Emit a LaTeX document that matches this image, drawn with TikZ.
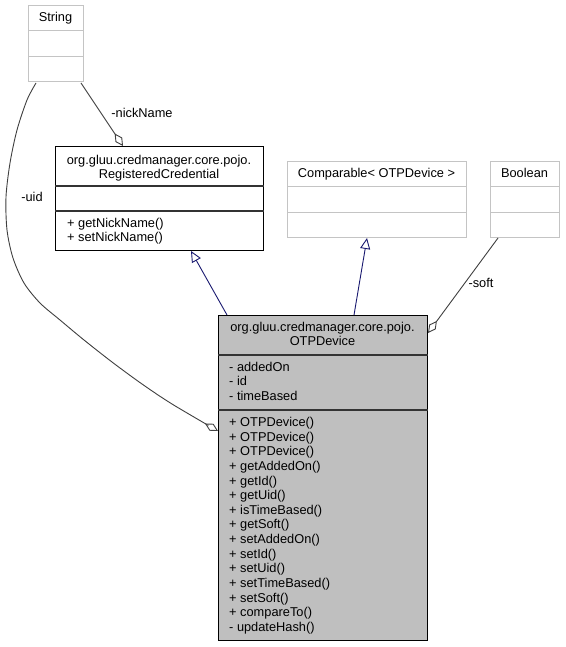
\documentclass[tikz,border=0pt]{standalone}
\usepackage{fontspec}
\setmainfont{Liberation Sans}
\usetikzlibrary{arrows.meta,calc}
\definecolor{boxgray}{HTML}{BFBFBF}
\definecolor{lightborder}{HTML}{C4C4C4}
\definecolor{edgegray}{HTML}{404040}
\definecolor{inhblue}{HTML}{191970}
\begin{document}
\begin{tikzpicture}[x=1pt,y=-1pt,
  txt/.style={inner sep=0pt, font=\fontsize{12.8}{14.6}\selectfont},
  lightbox/.style={draw=lightborder, fill=white, line width=1pt, inner sep=0pt, anchor=north west},
  darkbox/.style={draw=black, fill=white, line width=1pt, inner sep=0pt, anchor=north west},
  graybox/.style={draw=black, fill=boxgray, line width=1pt, inner sep=0pt, anchor=north west},
  lightdiv/.style={draw=lightborder, line width=1pt},
  darkdiv/.style={draw=black!80, line width=1.6pt},
  aggr/.style={draw=edgegray, line width=0.9pt, -{Diamond[open, length=15pt, width=8pt, line width=0.9pt]}},
  inher/.style={draw=inhblue, line width=0.9pt, -{Triangle[open, length=11pt, width=10pt, line width=0.9pt]}}
]
\useasboundingbox (0,0) rectangle (565,647);
\fill[white] (0,0) rectangle (565,647);

% String
\node[lightbox, minimum width=55pt, minimum height=76pt] (str) at (28,5) {};
\draw[lightdiv] ($(str.north west)+(0,26)$) -- ($(str.north east)+(0,26)$);
\draw[lightdiv] ($(str.north west)+(0,52)$) -- ($(str.north east)+(0,52)$);
\node[txt, anchor=base] (strt) at (55.5,22) {String};

% RegisteredCredential
\node[darkbox, minimum width=208pt, minimum height=104pt] (rc) at (55,146) {};
\draw[darkdiv] ($(rc.north west)+(0,40)$) -- ($(rc.north east)+(0,40)$);
\draw[darkdiv] ($(rc.north west)+(0,65)$) -- ($(rc.north east)+(0,65)$);
\node[txt, anchor=base] (rct1) at (159,164.5) {org.gluu.credmanager.core.pojo.};
\node[txt, anchor=base] (rct2) at (159,178.5) {RegisteredCredential};
\node[txt, anchor=base west] (rcm1) at (67,227.5) {+ getNickName()};
\node[txt, anchor=base west] (rcm2) at (67,241.5) {+ setNickName()};

% Comparable
\node[lightbox, minimum width=179pt, minimum height=76pt] (cmp) at (287,161) {};
\draw[lightdiv] ($(cmp.north west)+(0,25)$) -- ($(cmp.north east)+(0,25)$);
\draw[lightdiv] ($(cmp.north west)+(0,51)$) -- ($(cmp.north east)+(0,51)$);
\node[txt, anchor=base] (cmpt) at (376.5,177.5) {Comparable< OTPDevice >};

% Boolean
\node[lightbox, minimum width=69pt, minimum height=76pt] (bool) at (490,161) {};
\draw[lightdiv] ($(bool.north west)+(0,25)$) -- ($(bool.north east)+(0,25)$);
\draw[lightdiv] ($(bool.north west)+(0,51)$) -- ($(bool.north east)+(0,51)$);
\node[txt, anchor=base] (boolt) at (524.5,177.5) {Boolean};

% OTPDevice
\node[graybox, minimum width=209pt, minimum height=325pt] (otp) at (218,315) {};
\draw[darkdiv] ($(otp.north west)+(0,40)$) -- ($(otp.north east)+(0,40)$);
\draw[darkdiv] ($(otp.north west)+(0,95)$) -- ($(otp.north east)+(0,95)$);
\node[txt, anchor=base] (otpt1) at (322.5,331) {org.gluu.credmanager.core.pojo.};
\node[txt, anchor=base] (otpt2) at (322.5,345.5) {OTPDevice};
\node[txt, anchor=base west] (otpa1) at (229,371) {- addedOn};
\node[txt, anchor=base west] (otpa2) at (229,385.6) {- id};
\node[txt, anchor=base west] (otpa3) at (229,400.2) {- timeBased};
\foreach \m [count=\i from 0] in {+ OTPDevice(),+ OTPDevice(),+ OTPDevice(),+ getAddedOn(),+ getId(),+ getUid(),+ isTimeBased(),+ getSoft(),+ setAddedOn(),+ setId(),+ setUid(),+ setTimeBased(),+ setSoft(),+ compareTo(),- updateHash()}
  \node[txt, anchor=base west] (otpm\i) at (229,426.5+14.64*\i) {\m};

% connectors
\draw[aggr] ($(str.south west)+(53,1)$) -- ($(rc.north west)+(68,0)$);
\node[txt, anchor=base] (lnick) at (142,117.5) {-nickName};

\coordinate (u0) at ($(str.south west)+(8,1)$);
\coordinate (uend) at ($(otp.north west)+(0,116)$);
\draw[aggr] plot[smooth] coordinates {(u0) (27,100) (17,130) (10,163) (6,197) (7,230) (13,258) (24,283) (40,303) (60,320) (84,340) (112,362) (142,384) (172,404) (uend)};
\node[txt, anchor=base] (luid) at (32,201.5) {-uid};

\draw[inher] ($(otp.north west)+(9,0)$) -- ($(rc.south west)+(136,0)$);
\draw[inher] ($(otp.north west)+(136,0)$) -- ($(cmp.south west)+(80,0)$);

\draw[aggr] ($(bool.south west)+(8,0)$) -- ($(otp.north east)+(0,18)$);
\node[txt, anchor=base] (lsoft) at (481,287.5) {-soft};
\end{tikzpicture}
\end{document}
